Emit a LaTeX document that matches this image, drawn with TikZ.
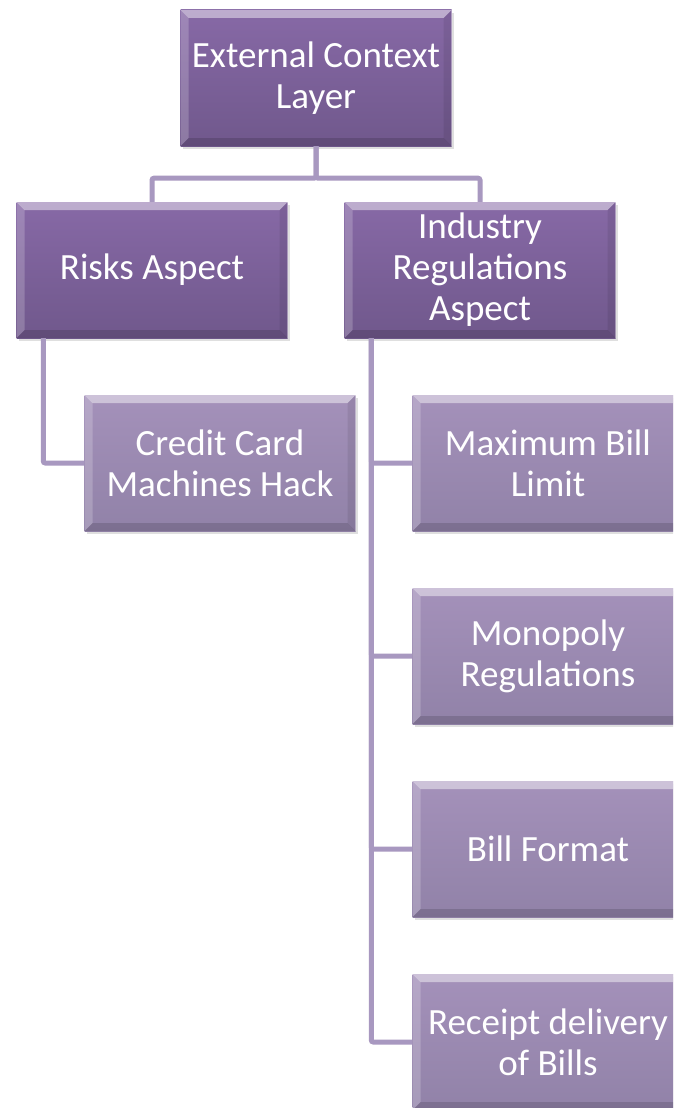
\documentclass[tikz,border=0pt]{standalone}
\usepackage{fontspec}
\setmainfont{Carlito}
\usetikzlibrary{shadows}

\definecolor{darktop}{HTML}{8769A6}
\definecolor{darkbot}{HTML}{70588C}
\definecolor{lighttop}{HTML}{A491BA}
\definecolor{lightbot}{HTML}{9182A8}
\definecolor{linkcol}{HTML}{A898C0}

\def\bw{8pt}
\tikzset{
  bevel/.style={path picture={
    \fill[white, opacity=.45] (path picture bounding box.north west) -- (path picture bounding box.north east)
      -- ([xshift=-\bw,yshift=-\bw]path picture bounding box.north east) -- ([xshift=\bw,yshift=-\bw]path picture bounding box.north west) -- cycle;
    \fill[white, opacity=.2] (path picture bounding box.north west) -- ([xshift=\bw,yshift=-\bw]path picture bounding box.north west)
      -- ([xshift=\bw,yshift=\bw]path picture bounding box.south west) -- (path picture bounding box.south west) -- cycle;
    \fill[black, opacity=.08] (path picture bounding box.north east) -- ([xshift=-\bw,yshift=-\bw]path picture bounding box.north east)
      -- ([xshift=-\bw,yshift=\bw]path picture bounding box.south east) -- (path picture bounding box.south east) -- cycle;
    \fill[black, opacity=.14] (path picture bounding box.south west) -- ([xshift=\bw,yshift=\bw]path picture bounding box.south west)
      -- ([xshift=-\bw,yshift=\bw]path picture bounding box.south east) -- (path picture bounding box.south east) -- cycle;
    \draw[white, opacity=.6, line width=1pt] ([xshift=-.5pt]path picture bounding box.north east) -- ([xshift=-.5pt]path picture bounding box.south east);
  }},
  box/.style={bevel, minimum width=271pt, minimum height=136pt, inner sep=0pt, align=center,
    text=white, font=\fontsize{37}{41}\selectfont,
    drop shadow={opacity=.25, shadow xshift=2pt, shadow yshift=-3pt}},
  darkbox/.style={box, top color=darktop, bottom color=darkbot},
  lightbox/.style={box, top color=lighttop, bottom color=lightbot},
  link/.style={draw=linkcol, line width=5pt, rounded corners=2pt},
}

\begin{document}
\begin{tikzpicture}[x=1pt, y=-1pt]
\path[use as bounding box, clip] (0,0) rectangle (673,1108);
\fill[white] (0,0) rectangle (673,1108);

% first and second level
\node[darkbox] (ext) at (316,78) {External Context\\Layer};
\node[darkbox] (risks) at (152,270) {Risks Aspect};
\node[darkbox] (industry) at (480,270) {Industry\\Regulations\\Aspect};

% leaves
\node[lightbox] (credit) at (220,463) {Credit Card\\Machines Hack};
\node[lightbox] (maxbill) at (548,463) {Maximum Bill\\Limit};
\node[lightbox] (monopoly) at (548,656) {Monopoly\\Regulations};
\node[lightbox] (format) at (548,849) {Bill Format};
\node[lightbox] (receipt) at (548,1042) {Receipt delivery\\of Bills};

% connectors
\draw[link] (ext.south) -- ++(0,32) -| (risks.north);
\draw[link] (ext.south) -- ++(0,32) -| (industry.north);
\draw[link] ([xshift=27pt]risks.south west) |- (credit.west);
\foreach \leaf in {maxbill, monopoly, format, receipt}
  \draw[link] ([xshift=27pt]industry.south west) |- (\leaf.west);
\end{tikzpicture}
\end{document}
